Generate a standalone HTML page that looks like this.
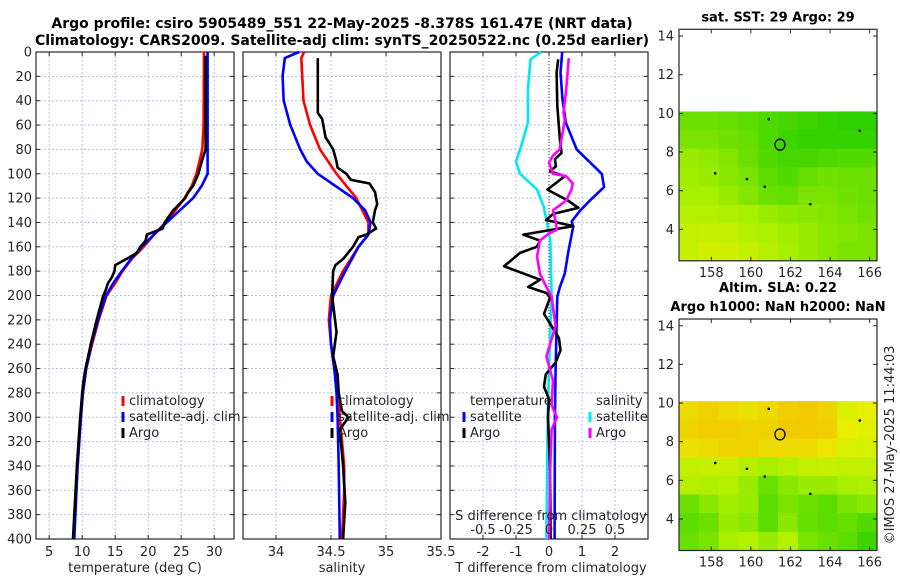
<!DOCTYPE html>
<html><head><meta charset="utf-8"><style>
body{margin:0;background:#fff;width:900px;height:580px;overflow:hidden}
svg{display:block;font-family:"DejaVu Sans","Liberation Sans",sans-serif}
</style></head><body>
<svg id="fig" width="900" height="580"></svg>
<script>
const depthTicks=[0,20,40,60,80,100,120,140,160,180,200,220,240,260,280,300,320,340,360,380,400];
const tTicks=[5,10,15,20,25,30];
const sTicks=[34,34.5,35,35.5];
const dTicks=[-2,-1,0,1,2];
const sdTicks=[-0.5,-0.25,0,0.25,0.5];
const sdTickLabels=["-0.5","-0.25","0","0.25","0.5"];
const mapLonTicks=[158,160,162,164,166];
const mapLatTicks=[4,6,8,10,12,14];
// temperature profiles
const climTD=[0,60,80,100,110,120,130,140,150,160,170,180,190,200,220,240,260,280,300,340,400];
const climT=[28.45,28.4,28.2,27.3,26.6,25.5,24.1,22.6,20.9,19.3,17.5,16.1,15,13.7,12.5,11.5,10.6,10.1,9.8,9.3,8.7];
const satTD=[0,100,110,120,130,140,150,160,170,180,190,200,220,240,260,280,300,340,400];
const satT=[29,29,28.1,26.8,24.8,22.8,20.9,19,17.4,16,14.7,13.6,12.4,11.4,10.6,10.1,9.8,9.3,8.8];
const argoTD=[3,80,90,100,110,115,120,130,140,145,150,155,160,165,170,175,180,185,190,195,200,220,240,260,270,280,300,340,400];
const argoT=[28.7,28.7,28.1,27.6,26.8,26.1,25.6,23.8,22.5,22.2,19.8,19.6,18.8,18.3,16.7,15,14.9,14.5,13.9,13.6,13.2,12.2,11.3,10.5,10.2,10,9.7,9.2,8.6];
// salinity profiles
const climSD=[0,5,40,60,80,100,120,140,150,160,180,200,220,240,260,280,300,340,360,400];
const climS=[34.255,34.23,34.25,34.31,34.40,34.55,34.73,34.84,34.84,34.75,34.61,34.50,34.48,34.5,34.53,34.56,34.58,34.62,34.62,34.6];
const satSD=[0,5,20,40,60,80,90,100,110,120,130,140,150,160,180,200,220,240,260,280,300,340,400];
const satS=[34.21,34.08,34.06,34.07,34.13,34.22,34.28,34.38,34.54,34.70,34.81,34.86,34.84,34.75,34.63,34.52,34.49,34.5,34.53,34.55,34.56,34.57,34.58];
const argoSD=[5,50,55,70,80,90,95,100,105,108,115,125,130,140,145,150,152,160,170,175,180,200,215,230,250,265,280,295,300,310,340,370,400];
const argoS=[34.38,34.38,34.42,34.45,34.52,34.55,34.56,34.64,34.68,34.85,34.90,34.92,34.90,34.88,34.91,34.82,34.75,34.70,34.61,34.54,34.52,34.51,34.53,34.55,34.52,34.56,34.57,34.60,34.66,34.58,34.61,34.63,34.61];
// difference profiles
const satDTD=[0,17,39,58,80,100,111,122,130,139,144,165,182,193,201,260,300,400];
const satDT=[0.40,0.35,0.41,0.51,0.84,1.6,1.67,1.24,0.95,0.69,0.73,0.58,0.48,0.33,0.25,0.2,0.18,0.17];
const argoDTD=[6,17,44,72,83,88,94,98,102,113,122,128,133,138,143,150,155,160,165,176,187,193,198,202,215,235,245,255,265,275,285,300,340,400];
const argoDT=[0.28,0.23,0.25,0.33,0.38,0.18,0.21,0.03,0.48,-0.05,0.57,0.89,0.13,-0.09,0.74,-0.78,-0.27,-0.37,-0.88,-1.36,-0.27,-0.63,-0.07,0.03,-0.15,0.3,0.35,0.2,-0.1,-0.15,0,-0.03,0.03,0.05];
const satDSD=[0,6,31,58,77,90,100,113,127,138,155,201,260,300,400];
const satDS=[-0.06,-0.14,-0.16,-0.16,-0.21,-0.25,-0.22,-0.09,-0.04,-0.02,0.01,0.02,0,-0.01,-0.02];
const argoDSD=[5,31,50,56,80,85,91,100,102,108,113,122,130,139,146,149,155,168,182,193,201,225,250,270,290,300,310,340,400];
const argoDS=[0.15,0.13,0.11,0.12,0.08,0.03,0,0.03,0.13,0.18,0.17,0.13,0.03,0.05,0.06,0,-0.07,-0.09,-0.07,-0.02,0.02,0.05,-0.02,0.03,0.02,0.06,0.02,0.01,0];
// map grids (rows north->south, lon west->east), normalised colour values
const sstGrid=[
[.30,.30,.28,.25,.20,.18,.15,.12,.10,.10],
[.35,.35,.32,.28,.20,.15,.12,.12,.12,.12],
[.45,.42,.38,.30,.22,.18,.18,.20,.22,.22],
[.48,.45,.40,.35,.25,.22,.28,.32,.30,.30],
[.50,.50,.45,.38,.30,.28,.35,.35,.32,.30],
[.55,.55,.52,.50,.45,.42,.40,.38,.35,.32],
[.60,.62,.60,.55,.52,.48,.45,.40,.38,.35],
[.62,.66,.65,.60,.55,.50,.45,.40,.35,.35]];
const slaGrid=[
[.85,.88,.85,.82,.85,.90,.92,.88,.70,.75],
[.88,.90,.90,.88,.88,.92,.92,.90,.75,.72],
[.82,.85,.88,.88,.85,.85,.85,.80,.70,.68],
[.60,.62,.62,.55,.50,.55,.60,.62,.60,.60],
[.55,.52,.55,.45,.30,.40,.45,.45,.50,.52],
[.30,.40,.48,.45,.25,.35,.30,.25,.35,.40],
[.25,.30,.45,.40,.25,.40,.28,.25,.28,.22],
[.30,.35,.50,.55,.45,.55,.35,.30,.25,.15]];
const argoLon=161.47, argoLat=8.38;

const NS="http://www.w3.org/2000/svg";
const svg=document.getElementById('fig');
function el(tag,attrs,parent){const e=document.createElementNS(NS,tag);for(const k in attrs)e.setAttribute(k,attrs[k]);(parent||svg).appendChild(e);return e;}
function txt(s,x,y,attrs,parent){const t=el('text',Object.assign({x:x,y:y,'font-size':13,fill:'#262626'},attrs||{}),parent);t.textContent=s;return t;}

const TOP=52,BOT=539;
const yD=d=>TOP+(d/400)*(BOT-TOP);
function panel(name,x0,x1,lo,hi,ticks,labels,showY){
  const g=el('g',{});
  
  
  const xs=v=>x0+(v-lo)/(hi-lo)*(x1-x0);
  for(const t of ticks){const l=el('line',{x1:xs(t),x2:xs(t),y1:TOP,y2:BOT,stroke:'#b8c0e8','stroke-width':1,'stroke-dasharray':'2,2'},g);
    }
  for(const d of depthTicks){const l=el('line',{x1:x0,x2:x1,y1:yD(d),y2:yD(d),stroke:'#b8c0e8','stroke-width':1,'stroke-dasharray':'2,2'},g);
    
    el('line',{x1:x0,x2:x0+4,y1:yD(d),y2:yD(d),stroke:'#262626'},g);el('line',{x1:x1-4,x2:x1,y1:yD(d),y2:yD(d),stroke:'#262626'},g);
    if(showY){const t=txt(String(d),x0-4,yD(d)+4.5,{'text-anchor':'end'},g);}}
  ticks.forEach((t,i)=>{el('line',{x1:xs(t),x2:xs(t),y1:BOT,y2:BOT-4,stroke:'#262626'},g);el('line',{x1:xs(t),x2:xs(t),y1:TOP,y2:TOP+4,stroke:'#262626'},g);
    if(labels){const tl=txt(labels[i],xs(t),556,{'text-anchor':'middle'},g);}});
  const r=el('rect',{x:x0,y:TOP,width:x1-x0,height:BOT-TOP,fill:'none',stroke:'#262626','stroke-width':1.2},g);
  
  return {g,xs};
}
function line(p,vals,depths,color,name,w){
  const pts=vals.map((v,i)=>p.xs(v).toFixed(1)+','+yD(depths[i]).toFixed(1)).join(' ');
  const pl=el('polyline',{points:pts,fill:'none',stroke:color,'stroke-width':w||2.6,'stroke-linejoin':'round'},p.g);
  
  
}
function legendEntry(g,x,y,color,label,name){
  const m=el('line',{x1:x,x2:x,y1:y-9,y2:y+1,stroke:color,'stroke-width':3},g);
  
  const t=txt(label,x+6,y,{},g);
}

// titles
let t1=txt('Argo profile: csiro 5905489_551 22-May-2025 -8.378S 161.47E (NRT data)',342,28,{'text-anchor':'middle','font-weight':'bold',fill:'#000','font-size':14});

let t2=txt('Climatology: CARS2009. Satellite-adj clim: synTS_20250522.nc (0.25d earlier)',342,45,{'text-anchor':'middle','font-weight':'bold',fill:'#000','font-size':14});


// panel 1 temperature
const p1=panel('temperature-panel',36,234,3,33,tTicks,tTicks.map(String),true);
line(p1,climT,climTD,'#ff0000','climatology-temperature-line');
line(p1,satT,satTD,'#0000ff','satellite-temperature-line');
line(p1,argoT,argoTD,'#000000','argo-temperature-line');
let xl=txt('temperature (deg C)',135,572,{'text-anchor':'middle'},p1.g);
legendEntry(p1.g,123,405,'#ff0000','climatology','legend-climatology');
legendEntry(p1.g,123,421,'#0000ff','satellite-adj. clim','legend-satellite');
legendEntry(p1.g,123,437,'#000000','Argo','legend-argo');

// panel 2 salinity
const p2=panel('salinity-panel',243,441,33.7,35.5,sTicks,sTicks.map(String),false);
line(p2,climS,climSD,'#ff0000','climatology-salinity-line');
line(p2,satS,satSD,'#0000ff','satellite-salinity-line');
line(p2,argoS,argoSD,'#000000','argo-salinity-line');
xl=txt('salinity',342,572,{'text-anchor':'middle'},p2.g);
legendEntry(p2.g,332,405,'#ff0000','climatology','legend-climatology');
legendEntry(p2.g,332,421,'#0000ff','satellite-adj. clim','legend-satellite');
legendEntry(p2.g,332,437,'#000000','Argo','legend-argo');

// panel 3 differences
const p3=panel('difference-panel',450,648,-3,3,dTicks,dTicks.map(String),false);
const zl=el('line',{x1:p3.xs(0),x2:p3.xs(0),y1:TOP,y2:BOT,stroke:'#333','stroke-width':1,'stroke-dasharray':'1,2'},p3.g);

const sdScale=v=>v*4; // S diff axis [-0.75,0.75] mapped onto [-3,3]
line(p3,satDT,satDTD,'#0000ff','satellite-temperature-difference-line');
line(p3,satDS.map(sdScale),satDSD,'#00e8f0','satellite-salinity-difference-line');
line(p3,argoDT,argoDTD,'#000000','argo-temperature-difference-line');
line(p3,argoDS.map(sdScale),argoDSD,'#ff00ff','argo-salinity-difference-line');
xl=txt('T difference from climatology',551,572,{'text-anchor':'middle'},p3.g);
xl=txt('S difference from climatology',551,520,{'text-anchor':'middle'},p3.g);
sdTicks.forEach((v,i)=>{const tl=txt(sdTickLabels[i],p3.xs(sdScale(v)),534,{'text-anchor':'middle'},p3.g);});
xl=txt('temperature',470,405,{},p3.g);
xl=txt('salinity',596,405,{},p3.g);
legendEntry(p3.g,464,421,'#0000ff','satellite','legend-t-satellite');
legendEntry(p3.g,464,437,'#000000','Argo','legend-t-argo');
legendEntry(p3.g,590,421,'#00e8f0','satellite','legend-s-satellite');
legendEntry(p3.g,590,437,'#ff00ff','Argo','legend-s-argo');

// maps
const stops=[[0,[16,200,0]],[0.5,[168,240,0]],[0.75,[232,240,0]],[1,[245,184,0]]];
function cmap(v){for(let i=1;i<stops.length;i++){if(v<=stops[i][0]){const a=stops[i-1],b=stops[i],f=(v-a[0])/(b[0]-a[0]);return 'rgb('+a[1].map((c,k)=>Math.round(c+(b[1][k]-c)*f)).join(',')+')';}}return 'rgb(245,184,0)';}
function map(name,top,grid,titles){
  const x0=679,x1=877,y0=top,y1=top+231.5;
  const lonLo=156.37,lonHi=166.37,latLo=2.37,latHi=14.35;
  const xs=v=>x0+(v-lonLo)/(lonHi-lonLo)*(x1-x0);
  const ys=v=>y1-(v-latLo)/(latHi-latLo)*(y1-y0);
  const g=el('g',{});
  
  
  const rows=grid.length,cols=grid[0].length,latTop=10.1;
  const cw=(lonHi-lonLo)/cols,ch=(latTop-latLo)/rows;
  grid.forEach((row,r)=>row.forEach((v,c)=>{
    const X=xs(lonLo+c*cw),Y=ys(latTop-r*ch);
    const cell=el('rect',{x:X,y:Y,width:xs(lonLo+(c+1)*cw)-X+0.5,height:ys(latTop-(r+1)*ch)-Y+0.5,fill:cmap(v)},g);
    
  }));
  const c=el('ellipse',{cx:xs(argoLon),cy:ys(argoLat),rx:5,ry:5.5,fill:'none',stroke:'#000','stroke-width':1.3},g);
  
  [[158.2,6.9],[163,5.3],[160.9,9.7],[165.5,9.1],[159.8,6.6],[160.7,6.2]].forEach(p=>{el('circle',{cx:xs(p[0]),cy:ys(p[1]),r:1.3,fill:'#000'},g);});
  el('rect',{x:x0,y:y0,width:x1-x0,height:y1-y0,fill:'none',stroke:'#262626','stroke-width':1.2},g);
  for(const t of mapLonTicks){el('line',{x1:xs(t),x2:xs(t),y1:y1,y2:y1-4,stroke:'#262626'},g);el('line',{x1:xs(t),x2:xs(t),y1:y0,y2:y0+4,stroke:'#262626'},g);
    const tl=txt(String(t),xs(t),y1+16,{'text-anchor':'middle'},g);}
  for(const t of mapLatTicks){el('line',{x1:x0,x2:x0+4,y1:ys(t),y2:ys(t),stroke:'#262626'},g);el('line',{x1:x1-4,x2:x1,y1:ys(t),y2:ys(t),stroke:'#262626'},g);
    const tl=txt(String(t),x0-5,ys(t)+4.5,{'text-anchor':'end'},g);}
  titles.forEach((s,i)=>{const tt=txt(s,778,top-(titles.length-1-i)*19-8,{'text-anchor':'middle','font-weight':'bold',fill:'#000'},g);});
}
map('sst-map',29.3,sstGrid,['sat. SST: 29 Argo: 29']);
map('sla-map',319,slaGrid,['Altim. SLA: 0.22','Argo h1000: NaN h2000: NaN']);
const cp=txt('©IMOS 27-May-2025 11:44:03',894,445,{'text-anchor':'middle',transform:'rotate(-90 894 445)'});

</script>
</body></html>
